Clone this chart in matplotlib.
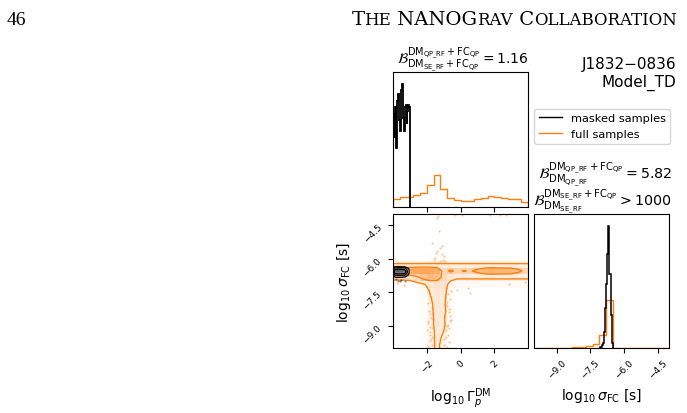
import numpy as np
import matplotlib
matplotlib.use("Agg")
from matplotlib import pyplot as plt
from matplotlib.colors import LinearSegmentedColormap
from matplotlib.lines import Line2D

orange = "#ff7f0e"

# ---- 1D marginal of log10 Gamma_p^DM (top panel) ----
gam_full_edges = np.linspace(-4, 4, 21)
gam_full_dens = [0.087, 0.109, 0.113, 0.132, 0.162, 0.245, 0.358, 0.207, 0.102, 0.075,
                 0.068, 0.068, 0.087, 0.106, 0.124, 0.113, 0.102, 0.094, 0.094, 0.057]
gam_mask_edges = np.linspace(-4, -3, 21)
gam_mask_dens = [1.05, 0.79, 1.13, 0.94, 0.67, 1.20, 1.28, 0.98, 0.86, 1.09,
                 1.32, 1.39, 1.01, 0.86, 1.13, 1.16, 0.94, 1.09, 1.16, 1.13]

# ---- 1D marginal of log10 sigma_FC (right panel) ----
sig_full_edges = np.linspace(-10.1, -4.1, 21)
sig_full_dens = [0.013, 0.013, 0.013, 0.016, 0.016, 0.019, 0.026, 0.038, 0.077, 0.173,
                 0.60, 2.30, 0, 0, 0, 0, 0, 0, 0, 0]
sig_mask_edges = np.linspace(-7.05, -6.5, 12)
sig_mask_dens = [0.064, 0.128, 0.256, 0.77, 1.92, 3.07, 4.48, 5.82, 3.52, 1.60, 0.26]

# ---- 2D density of full samples (smoothed histogram, 20 x 20 cells) ----
gam_centers = np.linspace(-3.8, 3.8, 20)
sig_centers = np.linspace(-9.85, -4.15, 20)
# stem (rows sigma -9.85 .. -7.45, columns Gamma -2.2 .. -0.6)
stem = [[0.1, 0.6, 1.2, 0.7, 0.1],
        [0.1, 0.5, 1.3, 0.8, 0.15],
        [0.1, 0.5, 1.3, 1.0, 0.2],
        [0.1, 0.6, 1.4, 1.2, 0.25],
        [0.1, 0.6, 1.4, 1.1, 0.3],
        [0.1, 0.7, 1.4, 1.3, 0.35],
        [0.1, 0.7, 1.5, 1.2, 0.3],
        [0.2, 0.9, 1.5, 1.3, 0.3],
        [0.3, 1.1, 1.6, 1.4, 0.4]]
row_below = [0.1, 0.1, 0.15, 0.4, 0.8, 1.5, 1.8, 1.6, 0.6, 0.3,
             0.3, 0.3, 0.3, 0.3, 0.3, 0.3, 0.3, 0.3, 0.3, 0.3]
row_low = [1.5, 1.5, 1.6, 2.4, 3.6, 4.3, 3.9, 2.4, 1.4, 1.16,
           1.16, 1.16, 1.16, 1.16, 1.16, 1.16, 1.16, 1.16, 1.16, 1.16]
row_mid = [4.8, 5.0, 5.2, 5.4, 5.6, 5.5, 5.0, 2.2, 3.3, 2.6,
           3.1, 2.8, 3.6, 4.4, 4.8, 4.6, 4.5, 4.4, 3.6, 2.6]
row_top = [1.1] * 20
row_above = [0.05, 0.05, 0.05, 0.05, 0.05, 0.15, 0.15, 0.15, 0.05, 0.05,
             0.05, 0.05, 0.05, 0.05, 0.05, 0.05, 0.05, 0.05, 0.05, 0.05]
full_levels = [1.0, 3.0]

# scattered full samples outside the contours
pts_gam = [-1.32, -1.42, -1.26, -1.71, -1.22, -1.42, -1.12, -1.51, -1.02, -1.22, -0.92, -1.32,
           -0.34, 0.06, 1.73, 2.32, 2.71, 0.45, 0.55, -3.37, -3.76,
           -1.85, -1.75, -1.90, -1.70, -1.80, -1.65, -1.95, -1.72, -1.83, -1.68, -1.78, -1.90,
           -1.70, -1.66, -1.80, -1.75, -2.00, -1.88, -1.93, -1.69, -1.86, -1.74, -1.97, -1.81,
           -0.85, -0.75, -0.60, -0.80, -0.70, -0.90, -0.65, -0.78, -0.88, -0.72, -0.95, -1.00,
           -0.82, -0.68, -0.55, -0.77, -0.86, -0.62, -0.93, -0.71, -0.84, -0.66, -0.79, -0.58,
           -1.45, -1.10, -0.98, -1.60, 3.85, 2.90, -0.20]
pts_sig = [-4.10, -4.17, -4.77, -5.29, -5.52, -5.67, -5.81, -5.97, -6.04, -6.11, -6.11, -6.19,
           -4.03, -4.03, -4.03, -4.05, -4.03, -7.31, -7.54, -7.16, -7.08,
           -7.40, -7.70, -8.00, -8.20, -8.50, -8.70, -8.90, -9.10, -9.30, -9.50, -9.70, -9.90,
           -7.95, -8.45, -9.05, -9.60, -7.25, -8.35, -8.80, -9.85, -7.55, -8.65, -9.20, -9.40,
           -7.30, -7.60, -7.80, -8.10, -8.40, -8.60, -8.80, -9.00, -9.20, -9.40, -9.60, -9.85,
           -7.95, -8.25, -7.45, -8.95, -9.50, -8.55, -7.70, -9.75, -8.05, -9.10, -9.95, -8.75,
           -5.75, -5.45, -5.90, -6.05, -7.05, -7.12, -7.40]

# ---- 2D density of masked samples ----
mgam_centers = [-4.1, -3.9, -3.7, -3.5, -3.3, -3.1, -2.9]
msig_centers = [-7.05, -6.95, -6.85, -6.75, -6.65, -6.55, -6.45, -6.35, -6.25]
mask_grid = [[0, 0, 0, 0, 0, 0, 0],
             [0, 0.3, 0.4, 0.3, 0.3, 0.1, 0],
             [0, 0.6, 0.8, 0.7, 0.6, 0.3, 0],
             [0, 2.2, 2.5, 2.4, 2.3, 0.8, 0],
             [0, 4.8, 5.6, 5.2, 5.0, 1.3, 0],
             [0, 5.6, 6.4, 6.0, 5.8, 1.4, 0],
             [0, 3.6, 4.0, 3.8, 3.6, 1.2, 0],
             [0, 0.6, 0.7, 0.6, 0.6, 0.2, 0],
             [0, 0, 0, 0, 0, 0, 0]]
mask_levels = [1.0, 2.5, 4.5]
mpts_gam = [-3.85, -3.7, -3.5, -3.3, -3.6]
mpts_sig = [-6.92, -6.98, -6.95, -7.0, -7.02]


def edges_of(c):
    c = np.asarray(c, float)
    d = c[1] - c[0]
    return np.append(c - d / 2, c[-1] + d / 2)


def padded(cx, cy, h):
    cx = np.asarray(cx, float)
    cy = np.asarray(cy, float)
    dx, dy = cx[1] - cx[0], cy[1] - cy[0]
    px = np.concatenate([[cx[0] - dx], cx, [cx[-1] + dx]])
    py = np.concatenate([[cy[0] - dy], cy, [cy[-1] + dy]])
    return px, py, np.pad(h, 1, mode="edge")


H = np.zeros((20, 20))
H[0:9, 4:9] = stem
H[9] = row_below
H[10] = row_low
H[11] = row_mid
H[12] = row_top
H[13] = row_above
Hm = np.array(mask_grid, float)

orange_cmap = LinearSegmentedColormap.from_list("oc", [(1, 0.498, 0.055, 0), (1, 0.498, 0.055, 1)])
black_cmap = LinearSegmentedColormap.from_list("kc", [(0, 0, 0, 0), (0, 0, 0, 1)])

plt.rcParams["xtick.labelsize"] = 6.5
plt.rcParams["ytick.labelsize"] = 6.5

fig = plt.figure(figsize=(6.87, 4.14), dpi=100)
ax_top = fig.add_axes([0.5721, 0.4976, 0.1965, 0.3261])
ax_2d = fig.add_axes([0.5721, 0.1570, 0.1965, 0.3237])
ax_r = fig.add_axes([0.7773, 0.1570, 0.1965, 0.3237])

# top histogram
ax_top.stairs(gam_full_dens, gam_full_edges, color=orange, lw=1)
ax_top.stairs(gam_mask_dens, gam_mask_edges, color="k", lw=1.3)
ax_top.set_xlim(-4, 4)
ax_top.set_ylim(0, 1.1 * max(max(gam_full_dens), max(gam_mask_dens)))
ax_top.set_xticks([-2, 0, 2])
ax_top.set_xticklabels([])
ax_top.set_yticks([])

# right histogram
ax_r.stairs(sig_full_dens, sig_full_edges, color=orange, lw=1)
ax_r.stairs(sig_mask_dens, sig_mask_edges, color="k", lw=1.1)
ax_r.set_xlim(-10, -4)
ax_r.set_ylim(0, 1.1 * max(max(sig_full_dens), max(sig_mask_dens)))
ax_r.set_xticks([-9, -7.5, -6, -4.5])
ax_r.set_yticks([])
for lab in ax_r.get_xticklabels():
    lab.set_rotation(45)
ax_r.set_xlabel(r"$\log_{10}\sigma_{\rm FC}$ [s]", fontsize=10)
ax_r.xaxis.set_label_coords(0.5, -0.28)

# 2D panel: full samples
ax_2d.plot(pts_gam, pts_sig, "o", color=orange, ms=1.5, alpha=0.45, mec="none")
px, py, H2 = padded(gam_centers, sig_centers, H)
ax_2d.contourf(px, py, H2, [full_levels[0], H2.max() + 1], colors="white", antialiased=False)
ax_2d.pcolormesh(edges_of(gam_centers), edges_of(sig_centers), H, cmap=orange_cmap,
                 vmin=0, vmax=1.45 * H.max())
ax_2d.contour(px, py, H2, full_levels, colors=orange, linewidths=1)

# 2D panel: masked samples
ax_2d.plot(mpts_gam, mpts_sig, "o", color="k", ms=1.5, alpha=0.45, mec="none")
mx, my, Hm2 = padded(mgam_centers, msig_centers, Hm)
ax_2d.contourf(mx, my, Hm2, [mask_levels[0], Hm2.max() + 1], colors="white", antialiased=False)
ax_2d.pcolormesh(edges_of(mgam_centers), edges_of(msig_centers), Hm, cmap=black_cmap,
                 vmin=0, vmax=1.6 * Hm.max())
ax_2d.contour(mx, my, Hm2, mask_levels, colors="k", linewidths=0.9)

ax_2d.set_xlim(-4, 4)
ax_2d.set_ylim(-10, -4)
ax_2d.set_xticks([-2, 0, 2])
ax_2d.set_yticks([-9, -7.5, -6, -4.5])
for lab in ax_2d.get_xticklabels():
    lab.set_rotation(45)
for lab in ax_2d.get_yticklabels():
    lab.set_rotation(45)
ax_2d.set_xlabel(r"$\log_{10}\Gamma_{p}^{\rm DM}$", fontsize=10)
ax_2d.xaxis.set_label_coords(0.5, -0.28)
ax_2d.set_ylabel(r"$\log_{10}\sigma_{\rm FC}$ [s]", fontsize=10)
ax_2d.yaxis.set_label_coords(-0.30, 0.5)

# labels and legend
fig.text(463 / 687, 1 - 60 / 414,
         r"$\mathcal{B}^{\mathrm{DM_{QP\_RF}}+\mathrm{FC_{QP}}}_{\mathrm{DM_{SE\_RF}}+\mathrm{FC_{QP}}} = 1.16$",
         ha="center", va="center", fontsize=10)
fig.text(676 / 687, 1 - 57 / 414, "J1832\u22120836\nModel_TD", ha="right", va="top",
         multialignment="right", fontsize=11)
fig.legend(handles=[Line2D([], [], color="k", lw=1), Line2D([], [], color=orange, lw=1)],
           labels=["masked samples", "full samples"], loc="upper right",
           bbox_to_anchor=(676 / 687, 1 - 104 / 414), fontsize=8.2,
           labelspacing=0.5, borderpad=0.4, handletextpad=0.8)
fig.text(672 / 687, 1 - 175 / 414,
         r"$\mathcal{B}^{\mathrm{DM_{QP\_RF}}+\mathrm{FC_{QP}}}_{\mathrm{DM_{QP\_RF}}} = 5.82$",
         ha="right", va="center", fontsize=10.3)
fig.text(672 / 687, 1 - 202 / 414,
         r"$\mathcal{B}^{\mathrm{DM_{SE\_RF}}+\mathrm{FC_{QP}}}_{\mathrm{DM_{SE\_RF}}} > 1000$",
         ha="right", va="center", fontsize=10.3)

# page header, small caps built from chained pieces (right aligned)
overlay = fig.add_axes([0, 0, 1, 1], zorder=-1)
overlay.axis("off")
fig.text(7 / 687, 1 - 29 / 414, "46", family="Liberation Serif", fontsize=14, va="bottom")
pieces = [("T", 14), ("HE", 12), (" NANOG", 14), ("RAV", 12), (" C", 14), ("OLLABORATION", 12)]
nxt = overlay.text(677 / 687, 1 - 29 / 414, pieces[-1][0], family="DejaVu Serif",
                   fontsize=pieces[-1][1], ha="right", va="bottom", transform=fig.transFigure)
for txt, sz in reversed(pieces[:-1]):
    nxt = overlay.annotate(txt, xy=(0, 0), xycoords=nxt, ha="right", va="bottom",
                           family="DejaVu Serif", fontsize=sz)

fig.savefig("out.png", dpi=100)
